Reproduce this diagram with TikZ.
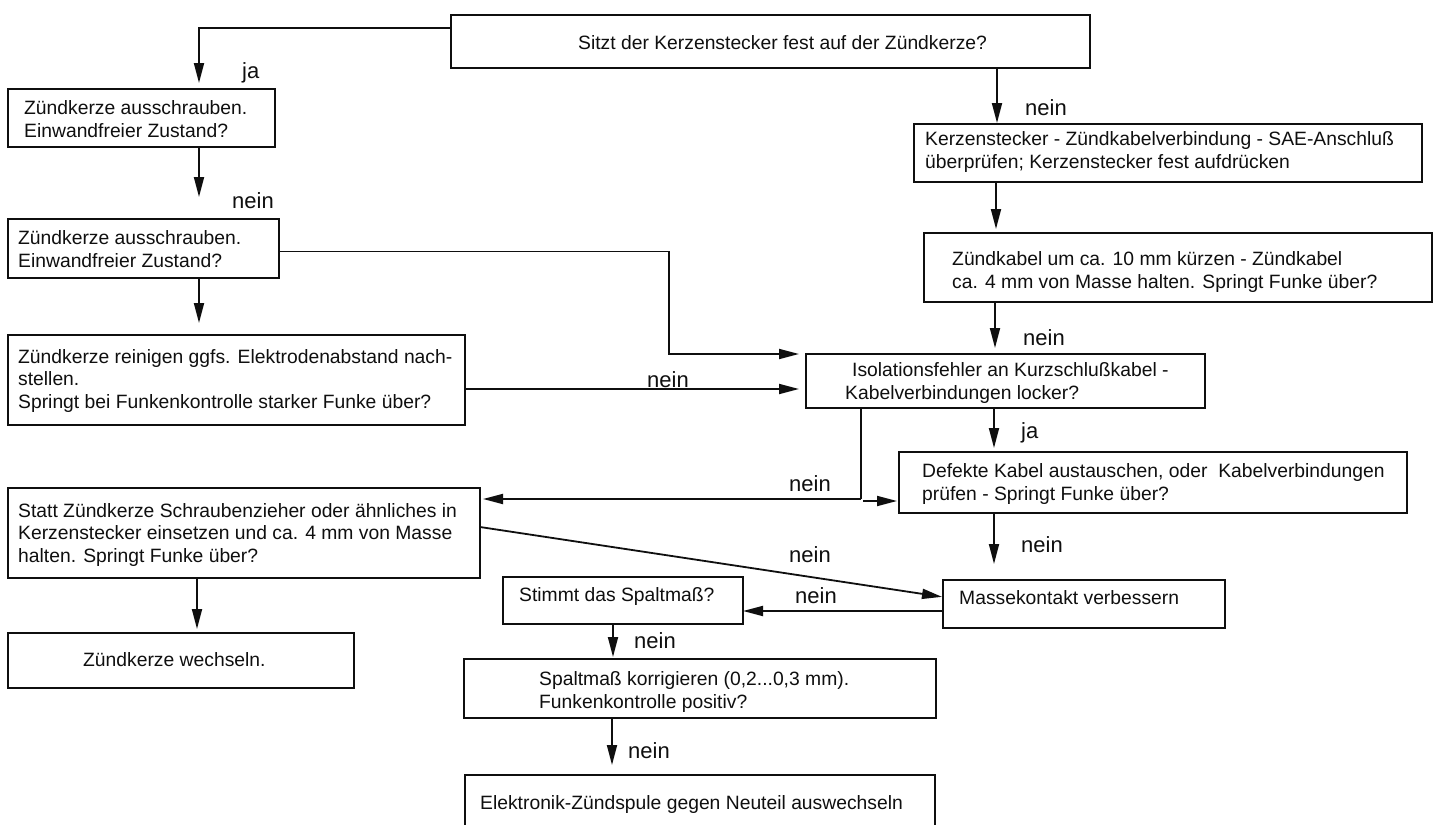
\documentclass[tikz,border=0pt]{standalone}
\usepackage{fontspec}
\setmainfont{Liberation Sans}
\usetikzlibrary{arrows.meta}
\definecolor{ink}{gray}{0.06}
\tikzset{
  box/.style={draw=ink, line width=1.9pt, anchor=north west, outer sep=0pt, inner sep=0pt},
  txt/.style={anchor=west, align=left, inner sep=0pt, text=ink, font=\fontsize{19.3}{22.5}\selectfont},
  lab/.style={anchor=base west, inner sep=0pt, text=ink, font=\fontsize{22}{26}\selectfont},
  conn/.style={draw=ink, line width=1.8pt},
  arr/.style={conn, -{Triangle[length=20pt,width=10pt]}},
}
\begin{document}
\begin{tikzpicture}[x=1pt,y=-1pt]
\useasboundingbox (0,0) rectangle (1436,825);
\fill[white] (0,0) rectangle (1436,825);
\clip (0,0) rectangle (1436,825);

% boxes
\node[box, minimum width=639pt, minimum height=53pt] (top) at (451,15) {};
\node[box, minimum width=267pt, minimum height=58pt] (A) at (8,89) {};
\node[box, minimum width=271pt, minimum height=59pt] (B) at (8,219) {};
\node[box, minimum width=457pt, minimum height=90pt] (C) at (8,335) {};
\node[box, minimum width=508pt, minimum height=58pt] (D) at (914,124) {};
\node[box, minimum width=508pt, minimum height=69pt] (E) at (924,233) {};
\node[box, minimum width=399pt, minimum height=54pt] (F) at (806,354) {};
\node[box, minimum width=508pt, minimum height=61pt] (L) at (899,452) {};
\node[box, minimum width=472pt, minimum height=90pt] (G) at (8,488) {};
\node[box, minimum width=346pt, minimum height=55pt] (H) at (8,633) {};
\node[box, minimum width=282pt, minimum height=48pt] (M) at (943,580) {};
\node[box, minimum width=240pt, minimum height=47pt] (I) at (503,577) {};
\node[box, minimum width=472pt, minimum height=59pt] (J) at (464,659) {};
\node[box, minimum width=470pt, minimum height=70pt] (K) at (465,775) {};

% box texts
\node[txt] (topT) at (578,43) {Sitzt der Kerzenstecker fest auf der Zündkerze?};
\node[txt] (AT) at (24,119) {Zündkerze ausschrauben.\\Einwandfreier Zustand?};
\node[txt] (BT) at (18,249) {Zündkerze ausschrauben.\\Einwandfreier Zustand?};
\node[txt] (CT) at (18,381) {Zündkerze reinigen ggfs. Elektrodenabstand nach-\\stellen.\\Springt bei Funkenkontrolle starker Funke über?};
\node[txt] (DT) at (925,152) {Kerzenstecker - Zündkabelverbindung - SAE-Anschluß\\überprüfen; Kerzenstecker fest aufdrücken};
\node[txt] (ET) at (952,272) {Zündkabel um ca. 10 mm kürzen - Zündkabel\\ca. 4 mm von Masse halten. Springt Funke über?};
\node[txt] (FT) at (845,383) {\hspace*{7pt}Isolationsfehler an Kurzschlußkabel -\\Kabelverbindungen locker?};
\node[txt] (LT) at (922,484) {Defekte Kabel austauschen, oder \ Kabelverbindungen\\prüfen - Springt Funke über?};
\node[txt] (GT) at (18,535) {Statt Zündkerze Schraubenzieher oder ähnliches in\\Kerzenstecker einsetzen und ca. 4 mm von Masse\\halten. Springt Funke über?};
\node[txt] (HT) at (83,660) {Zündkerze wechseln.};
\node[txt] (MT) at (959,598) {Massekontakt verbessern};
\node[txt] (IT) at (519,597) {Stimmt das Spaltmaß?};
\node[txt] (JT) at (539,692) {Spaltmaß korrigieren (0,2...0,3 mm).\\Funkenkontrolle positiv?};
\node[txt] (KT) at (480,805) {Elektronik-Zündspule gegen Neuteil auswechseln};

% connectors
\coordinate (a1) at ([yshift=-13pt]top.north west);
\draw[arr, shorten >=6pt] (a1) -| ([xshift=191pt]A.north west);
\draw[arr, shorten >=22pt] ([xshift=191pt]A.south west) -- ([xshift=191pt]B.north west);
\draw[arr, shorten >=12pt] ([xshift=191pt]B.south west) -- ([xshift=191pt]C.north west);
\draw[arr, shorten >=7pt] ([yshift=-3pt]B.east) -| ([xshift=-137pt]F.north west) -- (F.north west);
\draw[arr, shorten >=7pt] ([yshift=-9pt]C.east) -- ([yshift=-8pt]F.west);
\draw[arr, shorten >=1pt] ([xshift=546pt]top.south west) -- ([xshift=83pt]D.north west);
\draw[arr, shorten >=4pt] ([xshift=82pt]D.south west) -- ([xshift=72pt]E.north west);
\draw[arr, shorten >=6pt] ([xshift=71pt]E.south west) -- ([xshift=189pt]F.north west);
\draw[arr, shorten >=4pt] ([xshift=188pt]F.south west) -- ([xshift=95pt]L.north west);
\coordinate (j) at (861,499);
\coordinate (j2) at (863,501);
\draw[conn] ([xshift=55pt]F.south west) -- (j);
\draw[arr, shorten >=3pt] (j) -- (j -| G.east);
\draw[arr, shorten >=2pt] (j2) -- (j2 -| L.west);
\draw[arr, shorten >=4pt] ([xshift=189pt]G.south west) -- ([xshift=189pt]H.north west);
\draw[arr, shorten >=1pt] ([yshift=6pt]G.east) -- ([yshift=7pt]M.west);
\draw[arr] ([yshift=-7pt]M.west) -- ([yshift=-10.5pt]I.east);
\draw[arr, shorten >=2pt] ([xshift=110pt]I.south west) -- ([xshift=149pt]J.north west);
\draw[arr, shorten >=10pt] ([xshift=148pt]J.south west) -- ([xshift=147pt]K.north west);
\draw[arr, shorten >=16pt] ([xshift=95pt]L.south west) -- ([xshift=51pt]M.north west);

% labels
\node[lab] (l1) at (242,78) {ja};
\node[lab] (l2) at (232,208) {nein};
\node[lab] (l3) at (1025,115) {nein};
\node[lab] (l4) at (1023,345) {nein};
\node[lab] (l5) at (647,387) {nein};
\node[lab] (l6) at (1021,438) {ja};
\node[lab] (l7) at (789,491) {nein};
\node[lab] (l8) at (1021,552) {nein};
\node[lab] (l9) at (789,562) {nein};
\node[lab] (l10) at (795,603) {nein};
\node[lab] (l11) at (634,648) {nein};
\node[lab] (l12) at (628,758) {nein};
\end{tikzpicture}
\end{document}
